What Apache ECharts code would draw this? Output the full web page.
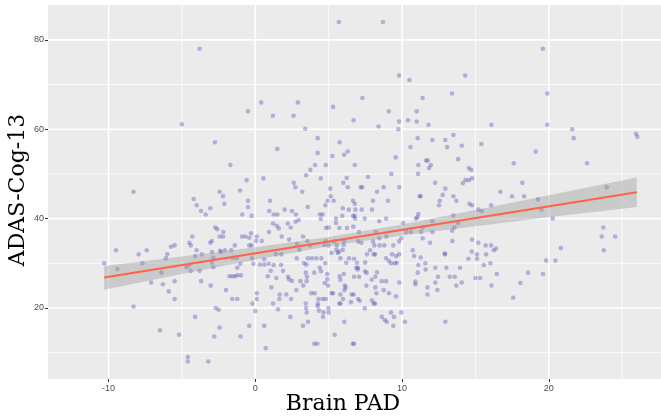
<!DOCTYPE html>
<html>
<head>
<meta charset="utf-8">
<script src="https://cdn.jsdelivr.net/npm/echarts@6/dist/echarts.min.js"></script>
<style>
  html, body { margin: 0; padding: 0; background: #fff; }
  #chart { width: 661px; height: 416px; }
</style>
</head>
<body>
<div id="chart"></div>
<script>
// Brain PAD vs ADAS-Cog-13
var scatterPoints = [
  [-3.8,78],[-5.0,61.1],[5.7,84],[-0.5,64],[0.4,66],[1.2,63],[2.9,66],[2.6,63],[3.4,60.1],[5.3,65],[6.7,62],
  [8.7,84],[9.8,72],[10.5,71],[14.3,72],[7.3,67],[11.4,67],[13.4,68],[9.1,64],[11.0,64],[8.4,60.6],[9.8,61.7],
  [10.4,62],[11.0,61.7],[11.8,61],[16.1,61],[9.75,60.0],[19.6,78],[19.9,68],[19.9,61],[21.6,60],
  [-8.3,46],[-4.2,44.4],[-4.0,43],[-3.7,41.7],[-4.3,36],[-4.5,34.6],[-4.4,34],[-4.0,32.9],[-9.5,32.9],
  [-7.95,32],[-7.4,32.9],[-5.75,33.7],[-5.5,34],[-6.0,32],
  [-10.3,30],[-9.4,28.7],[-7.7,30],[-6.1,31.1],[-6.4,27.9],[-7.1,25.7],[-6.3,25.3],[-5.5,26],[-5.9,23.7],
  [-5.5,22],[-8.3,20.3],[-6.5,15],[-5.2,14],[-4.1,18],[-4.6,9],[-4.6,8],[-4.1,31.6],[-4.7,29.1],[-4.4,28.3],
  [-4.5,29.6],[-3.8,28.3],[-3.7,26],[-3.65,32],
  [-2.75,57.1],[1.5,55.6],[4.25,58],[4.25,54.7],[5.75,57.1],[6.3,55],[6.05,54.3],[5.25,54],[-1.7,52],[4.07,52],
  [4.8,52],[3.75,50.9],[3.46,49.7],[4.46,49],[-0.59,48.6],[0.55,49],[2.62,48],[2.73,47],[3.2,46],[-2.43,46],
  [-2.2,45],[-1.04,46.3],[-2.11,43.3],[-0.5,44],[-0.5,42.6],[1.0,44],[-3.07,42.3],[-3.38,40.9],[-0.89,40.9],
  [-0.25,40.6],[0.95,41.7],[1.25,40.9],[1.5,40.9],[2.0,42],[2.5,41.7],[2.77,40.9],[3.57,42.6],[5.11,46.7],
  [5.14,45],[5.34,44],[4.93,44],[4.77,43],[6.23,49.1],[6.0,48],[6.3,47],[6.66,44],[5.96,42.3],[6.37,42],
  [4.39,40.9],[4.59,40.9],[4.46,39.9],[5.5,40],[5.5,39],[5.93,40.6],[6.66,40.6],[1.21,38.9],[2.21,38.9],
  [2.96,39.7],[2.75,39.3],[1.46,38.4],[1.6,37.8],[2.41,38],[0.93,37],[1.8,36],[2.3,35.3],[3.25,36],[3.55,35],
  [2.84,34.3],[-2.73,38],[-2.59,37.6],[-2.18,37],[-2.2,36],[-2.43,36],[-0.91,36],[-0.68,36],[-0.41,35.7],
  [-0.29,36.7],[0.1,36],[0.05,35],[0.44,35],[-2.97,35],[-3.07,34.6],[-1.4,34],[-0.41,34],[-0.25,34],
  [-2.07,32.9],[-1.64,32.9],[-2.41,32.8],[-2.95,32.5],[3.0,33],[3.73,34],[4.8,35],[4.7,34.1],[4.98,34],
  [5.55,34],[5.36,34.9],[6.03,34.1],[6.05,35],[5.96,33],[5.52,33],[4.82,37.9],[5.0,38],[5.73,37.9],
  [6.25,37.9],[6.68,38.2],[5.7,32.6],
  [11.07,58],[12.07,57.6],[12.95,57.6],[13.5,58.7],[10.57,56],[13.07,56],[14.07,56.3],[15.41,56.7],[9.57,53.7],
  [11.64,53],[11.75,53],[11.96,52],[11.84,51.3],[11.11,52],[11.09,50],[13.82,53.3],[6.78,52],[14.55,51.3],
  [14.72,50.9],[9.27,50],[7.68,49.3],[14.14,47.9],[14.32,48.6],[14.55,48.6],[14.77,49],[12.25,48],[7.18,47],
  [7.29,47],[8.75,47],[9.82,47],[8.3,46],[12.95,46.7],[12.77,45.3],[13.5,45],[13.7,44],[16.7,46],[11.27,45],
  [11.2,45],[9.05,44],[8.02,44],[12.57,44],[12.52,43],[14.59,43.3],[14.77,43],[16.07,43],[15.2,42],
  [15.43,41.7],[6.78,43.3],[6.82,42],[7.25,42],[7.95,42],[6.78,40.6],[6.8,40],[7.46,40],[8.45,39.4],[8.91,40],
  [10.95,40],[11.11,41],[11.05,40.3],[12.07,39.4],[13.5,40.7],[13.82,39],[10.07,39],[13.57,38],[13.41,37.3],
  [11.41,38],[12.07,37],[10.6,37],[10.29,37],[11.3,37],[8.21,37],[7.07,37],[8.93,36],[9.95,35.6],[11.41,35.6],
  [8.45,35.6],[7.0,34.9],[7.23,34.6],[8.02,34.9],[8.11,34],[8.48,34],[8.79,34],[9.41,34],[9.8,34.9],
  [11.91,34.6],[13.43,35],[14.77,35.3],[15.2,34.6],[15.7,34],[16.07,34],[16.41,33.3],[16.25,32.9],
  [14.75,32.6],[10.73,32.9],[7.82,32.9],[12.91,32.2],
  [21.7,58],[25.95,59],[26.04,58.3],[19.11,55],[17.61,52.4],[22.61,52.4],[18.2,48],[17.5,45],[18.32,45],
  [19.27,44.3],[19.5,42],[23.95,47],[20.27,40],[23.72,38],[23.61,36],[24.52,36],[20.82,33.4],[23.75,32.9],
  [20.45,30.6],[19.82,30.6],[18.59,27.9],[19.61,27.6],[18.07,25.6],[17.57,22.3],
  [6.73,31],[6.93,30.1],[6.88,29],[7.0,29],[6.98,28.6],[6.73,27],[7.07,27],[7.48,30.2],[7.48,28.2],
  [7.59,27.85],[7.61,32],[8.07,32],[8.16,32],[8.91,31.1],[9.11,30.5],[9.32,32],[9.59,31.6],[9.8,32],
  [9.25,30],[9.5,30],[9.64,30.1],[10.82,31.6],[11.27,31.3],[11.11,29.6],[11.59,30],[11.61,28.6],[11.07,27.9],
  [12.27,29],[12.93,32],[13.02,29],[13.95,29],[14.52,31],[15.11,32],[15.11,31],[15.73,32],[15.57,29.6],
  [16.02,30],[16.46,27.6],[15.0,26.7],[15.32,26.7],[16.09,25],[12.45,27],[13.25,27],[13.59,27],[14.07,25.7],
  [13.7,25],[12.27,25.7],[12.41,24],[11.73,24.6],[11.73,23],[10.91,25.9],[10.91,25.3],[9.82,25.7],[8.91,26],
  [8.62,26],[8.3,28],[8.18,27],[7.93,26.3],[8.18,24.6],[8.25,23.3],[7.57,25],[6.7,23],[7.0,22],[7.12,21.6],
  [7.95,21.7],[8.07,21],[8.16,21],[7.46,19.9],[8.75,24],[9.11,23.3],[9.59,22.6],[8.62,18],[8.82,17.3],
  [8.96,16.9],[9.25,19],[9.45,18],[9.95,19],[10.2,16.9],[9.41,16],[12.95,16.9],[6.73,12],
  [-2.34,32.55],[-2.86,31.2],[-2.95,30.1],[-2.86,29.1],[-1.54,31.2],[-1.27,31.2],[-1.02,29.9],[-1.23,29],
  [-0.22,31.1],[-0.14,29.9],[0.32,29.7],[0.61,29.7],[0.91,29.9],[0.61,30.9],[1.41,32],[1.77,32],[1.25,29.6],
  [1.75,29.6],[1.05,28.3],[0.85,27.1],[1.43,26.7],[2.23,27],[2.3,26.4],[2.5,26.05],[1.89,28.3],[2.82,31.1],
  [3.59,31.1],[3.86,31.1],[4.16,31.1],[4.5,31.1],[5.2,32.3],[5.62,32.3],[5.8,31.1],[4.77,30],[4.39,29],
  [3.32,30],[3.48,29.7],[3.44,27.9],[3.52,27],[3.07,26],[3.5,26],[3.27,25],[4.02,27.9],[4.48,28.2],[4.91,27.6],
  [4.73,25.6],[4.91,26.4],[4.96,25],[5.75,27.1],[6.03,27.6],[5.8,26.3],[6.1,25],[6.16,24.6],[6.07,24],
  [5.2,23.3],[5.3,23.3],[5.8,23],[5.73,21],[5.8,21],[5.98,22],[6.57,23],[6.52,21.3],[6.39,31.1],[6.2,30.1],
  [4.05,23.3],[3.82,23.3],[4.3,22],[4.8,22],[4.59,22],[4.27,21],[4.25,20.4],[4.34,19.4],[4.64,19],[4.98,20],
  [5.0,19],[4.61,18],[3.44,21],[3.46,20],[3.5,19],[3.59,16.9],[3.25,16],[2.39,18],[1.66,23],[2.11,23],
  [2.43,22],[1.64,22],[2.8,24],[1.55,19.7],[1.21,21],[1.09,24.6],[0.1,23.3],[0.1,22],[-0.2,21],[0.0,19.3],
  [-1.23,22],[-1.57,22],[-2.0,24],[-3.04,25],[-1.77,27.1],[-1.57,27.1],[-1.39,27.1],[-1.23,27.3],[-0.98,27.3],
  [-2.7,20],[-2.5,19.6],[-0.41,16],[0.61,16],[-2.43,15.6],[-2.8,13.6],[-1.0,13.6],[0.71,11],[-3.2,8],
  [4.02,12],[4.23,12],[5.41,14],[6.07,16.9],[6.64,12]
];

// linear fit and its confidence band
var fitX = [-10.3, 26.0];
var fitY = [26.8, 45.9];
var bandX = [-10.3, -5, 0, 5, 10, 15, 20, 26];
var bandLower = [24.1, 27.6, 30.8, 33.8, 36.2, 38.3, 40.3, 42.6];
var bandUpper = [29.4, 31.5, 33.6, 35.9, 38.7, 41.9, 45.2, 49.2];

var xMajor = [-10, 0, 10, 20];
var xMinor = [-5, 5, 15, 25];
var yMajor = [20, 40, 60, 80];
var yMinor = [10, 30, 50, 70];

var xMin = -14.13, xMax = 27.65, yMin = 4.1, yMax = 87.8;

var chart = echarts.init(document.getElementById('chart'), null, {renderer: 'canvas'});

var labelStyle = { color: '#4D4D4D', fontSize: 9, fontFamily: 'Liberation Sans, Arial, sans-serif' };

function axis(ticks, min, max, isX) {
  return {
    type: 'value', min: min, max: max,
    axisLine: { show: false, onZero: false },
    axisTick: { show: true, length: 3, customValues: ticks, lineStyle: { color: '#333', width: 1 } },
    axisLabel: Object.assign({ customValues: ticks, margin: isX ? 5 : 4 }, labelStyle),
    splitLine: { show: false }
  };
}

var titles = [
  {
    type: 'text', x: 343, y: 404,
    style: { text: 'Brain PAD', font: '22px "DejaVu Serif", serif', fill: '#000', align: 'center', verticalAlign: 'middle' }
  },
  {
    type: 'text', x: 18, y: 190, rotation: Math.PI / 2,
    style: { text: 'ADAS-Cog-13', font: '22px "DejaVu Serif", serif', fill: '#000', align: 'center', verticalAlign: 'middle' }
  }
];

var option = {
  animation: false,
  grid: {
    left: 48, right: 0, top: 5, bottom: 37,
    show: true, backgroundColor: '#EBEBEB', borderWidth: 0,
    outerBoundsMode: 'none'
  },
  xAxis: axis(xMajor, xMin, xMax, true),
  yAxis: axis(yMajor, yMin, yMax, false),
  graphic: titles,
  series: [
    {
      type: 'scatter',
      data: scatterPoints,
      symbolSize: 4.6,
      z: 6,
      itemStyle: { color: 'rgba(70,70,180,0.45)' }
    },
    {
      type: 'custom',
      z: 7,
      data: bandX.map(function (x, i) { return [x, bandLower[i], bandUpper[i]]; }),
      encode: { x: 0, y: [1, 2] },
      renderItem: function (params, api) {
        if (params.dataIndex !== 0) return;
        var upper = [], lower = [];
        for (var i = 0; i < bandX.length; i++) {
          upper.push(api.coord([bandX[i], bandUpper[i]]));
          lower.unshift(api.coord([bandX[i], bandLower[i]]));
        }
        return {
          type: 'polygon',
          shape: { points: upper.concat(lower) },
          style: { fill: 'rgba(153,153,153,0.4)' }
        };
      },
      silent: true
    },
    {
      type: 'line',
      z: 8,
      data: fitX.map(function (x, i) { return [x, fitY[i]]; }),
      showSymbol: false,
      lineStyle: { color: '#FF6347', width: 2 },
      silent: true
    }
  ]
};
chart.setOption(option);

// white panel grid lines, positioned through the chart's own axis scales
var gridGraphics = [];
function addGridLines(values, width, vertical) {
  values.forEach(function (v) {
    var a = chart.convertToPixel({ gridIndex: 0 }, vertical ? [v, yMin] : [xMin, v]);
    var b = chart.convertToPixel({ gridIndex: 0 }, vertical ? [v, yMax] : [xMax, v]);
    gridGraphics.push({
      type: 'line', z: 3, silent: true,
      shape: { x1: a[0], y1: a[1], x2: b[0], y2: b[1] },
      style: { stroke: '#FFFFFF', lineWidth: width }
    });
  });
}
addGridLines(xMinor, 0.8, true);
addGridLines(yMinor, 0.8, false);
addGridLines(xMajor, 1.6, true);
addGridLines(yMajor, 1.6, false);
chart.setOption({ graphic: titles.concat(gridGraphics) });
</script>
</body>
</html>
